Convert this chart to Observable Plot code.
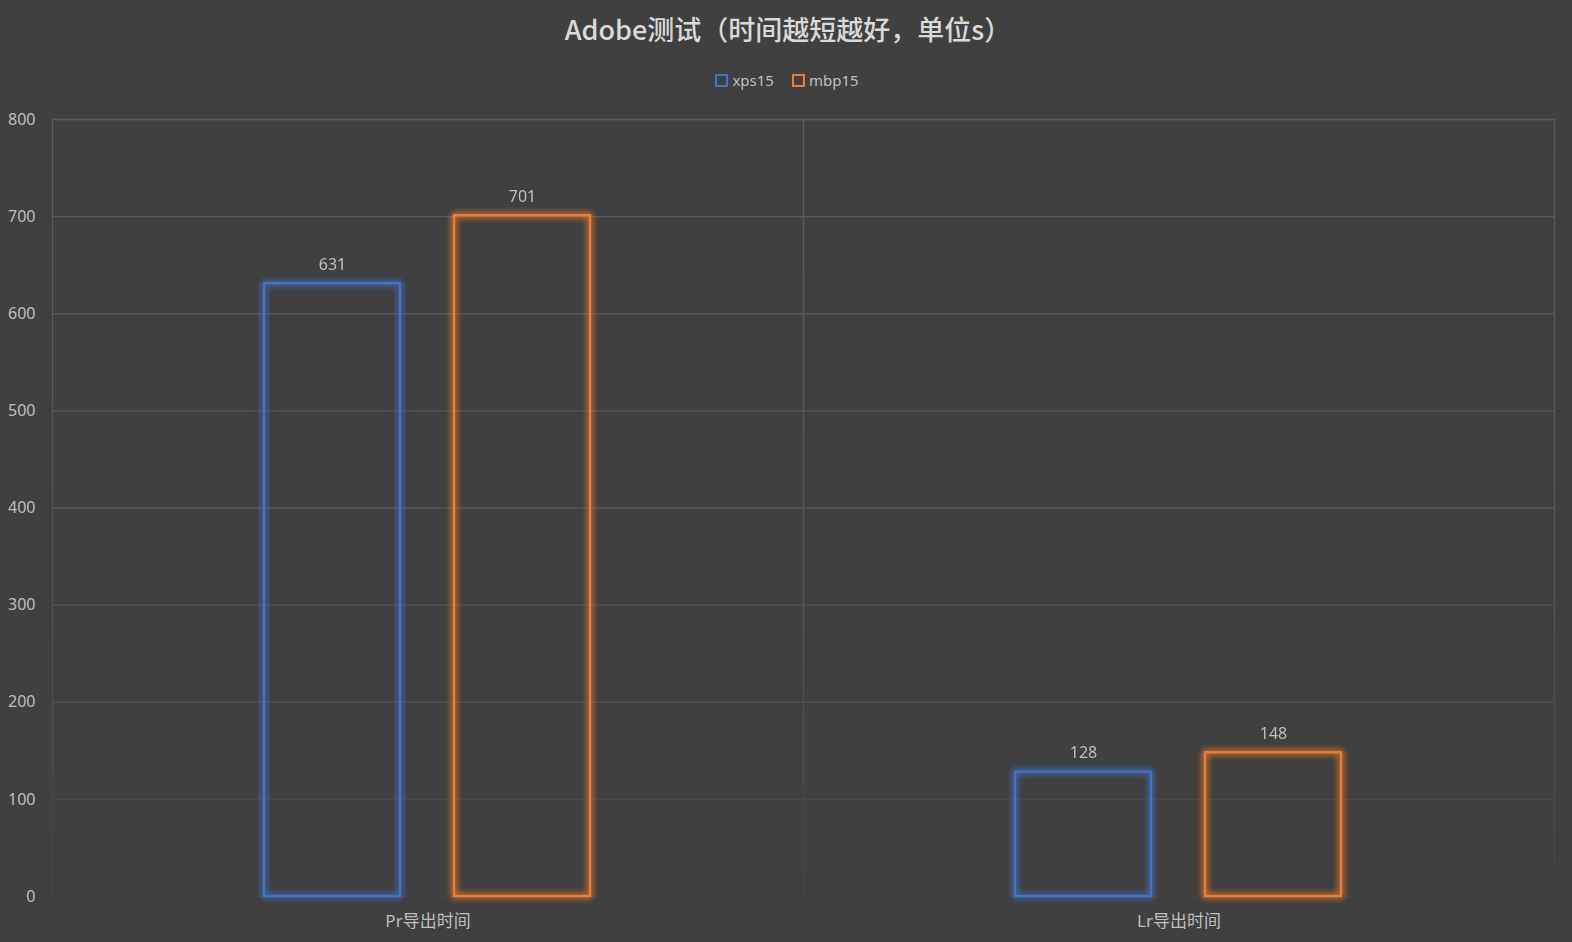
<!DOCTYPE html>
<html>
<head>
<meta charset="utf-8">
<script src="https://cdn.jsdelivr.net/npm/d3@7"></script>
<script src="https://cdn.jsdelivr.net/npm/@observablehq/plot@0.6"></script>
<style>
  html, body { margin: 0; padding: 0; background: #404040; overflow: hidden; }
  body { width: 1572px; height: 942px; font-family: "Noto Sans", "Noto Sans CJK SC", sans-serif; }
  #title { height: 58px; line-height: 58px; text-align: center; color: #d9d9d9; font-size: 27px; font-weight: 500; font-family: "Noto Sans CJK SC", "Noto Sans", sans-serif; padding-left: 4px; }
  #legend { height: 44px; display: flex; justify-content: center; align-items: center; gap: 18px; color: #bfbfbf; font-size: 15px; padding-left: 2px; }
  .item { display: flex; align-items: center; gap: 4px; }
  .sw { width: 9px; height: 9px; border: 2px solid; box-sizing: content-box; }
  #chart svg { display: block; }
</style>
</head>
<body>
<div id="title">Adobe测试（时间越短越好，单位s）</div>
<div id="legend"></div>
<div id="chart"></div>
<script>
const categories = ["Pr导出时间", "Lr导出时间"];
const series = ["xps15", "mbp15"];
const xps15 = [631, 128];
const mbp15 = [701, 148];
const yTicks = [0, 100, 200, 300, 400, 500, 600, 700, 800];
const colors = ["#4472C4", "#ED7D31"];

const data = [];
categories.forEach((c, i) => {
  data.push({category: c, series: "xps15", value: xps15[i]});
  data.push({category: c, series: "mbp15", value: mbp15[i]});
});

const legend = document.getElementById("legend");
series.forEach((s, i) => {
  const it = document.createElement("div");
  it.className = "item";
  it.innerHTML = `<span class="sw" style="border-color:${colors[i]}"></span><span>${s}</span>`;
  legend.appendChild(it);
});

const H = 834, MT = 17, MB = 40;
const chart = Plot.plot({
  width: 1572,
  height: H,
  marginTop: MT,
  marginBottom: MB,
  marginLeft: 52,
  marginRight: 18,
  style: {background: "#404040", color: "#bfbfbf", fontSize: "15px", fontFamily: "Noto Sans, Noto Sans CJK SC, sans-serif"},
  fx: {domain: categories, padding: 0, label: null},
  x: {domain: series, paddingInner: 0.284, paddingOuter: 1.113, axis: null},
  y: {domain: [0, 800], ticks: yTicks, label: null},
  color: {domain: series, range: colors},
  marks: [
    Plot.ruleY(yTicks, {stroke: "url(#gridgrad)", strokeWidth: 1.3}),
    Plot.frame({stroke: "url(#gridgrad)", strokeWidth: 1.3}),
    Plot.axisY({ticks: yTicks, tickSize: 0, tickPadding: 17, label: null, fontSize: 16, fill: "#bfbfbf"}),
    Plot.axisFx({anchor: "bottom", tickSize: 0, tickPadding: 18, label: null, fontSize: 17, fill: "#bfbfbf"}),
    Plot.barY(data, {fx: "category", x: "series", y: "value", stroke: "series", fill: "none", strokeWidth: 2.4, inset: 0}),
    Plot.text(data, {fx: "category", x: "series", y: "value", text: d => String(d.value), dy: -19, fill: "#bfbfbf", fontSize: 16})
  ]
});

document.getElementById("chart").appendChild(chart);

const svg = d3.select(chart);
const defs = svg.insert("defs", ":first-child");
const g = defs.append("linearGradient").attr("id", "gridgrad")
  .attr("gradientUnits", "userSpaceOnUse").attr("x1", 0).attr("x2", 0).attr("y1", MT).attr("y2", H - MB);
g.append("stop").attr("offset", "0%").attr("stop-color", "#5c5c5c");
g.append("stop").attr("offset", "60%").attr("stop-color", "#555555");
g.append("stop").attr("offset", "100%").attr("stop-color", "#444444");
const f = defs.append("filter").attr("id", "glow").attr("x", "-20%").attr("y", "-20%").attr("width", "140%").attr("height", "140%");
f.append("feGaussianBlur").attr("in", "SourceGraphic").attr("stdDeviation", 3.5).attr("result", "blur");
const m = f.append("feMerge");
m.append("feMergeNode").attr("in", "blur");
m.append("feMergeNode").attr("in", "blur");
m.append("feMergeNode").attr("in", "SourceGraphic");
svg.selectAll('g[aria-label="bar"]').attr("filter", "url(#glow)");
</script>
</body>
</html>
